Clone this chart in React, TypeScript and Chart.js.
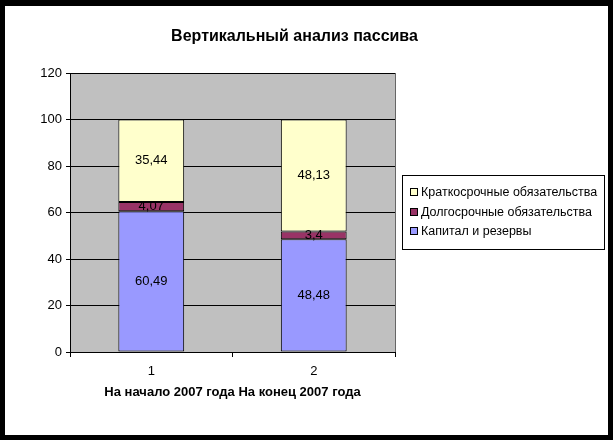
import React, { useEffect, useRef } from "react";
import { Chart, registerables } from "chart.js";

Chart.register(...registerables);

const categories = ["1", "2"];
const capital = [60.49, 48.48];
const longTerm = [4.07, 3.4];
const shortTerm = [35.44, 48.13];
const seriesNames = ["Капитал и резервы", "Долгосрочные обязательства", "Краткосрочные обязательства"];
const yTicks = { min: 0, max: 120, step: 20 };
const titleText = "Вертикальный анализ пассива";
const xTitleText = "На начало 2007 года На конец 2007 года";

const COLORS = ["#9999FF", "#993366", "#FFFFCC"];
const FONT = "'Liberation Sans', Arial, sans-serif";

const fmt = (v: number) => String(v).replace(".", ",");

export default function App() {
  const ref = useRef<HTMLCanvasElement | null>(null);
  useEffect(() => {
    const canvas = ref.current;
    if (!canvas) return;
    const decor = {
      id: "decor",
      beforeDraw(chart: any) {
        const { ctx, chartArea: a } = chart;
        ctx.save();
        ctx.fillStyle = "#fff";
        ctx.fillRect(0, 0, chart.width, chart.height);
        ctx.fillStyle = "#C0C0C0";
        ctx.fillRect(a.left, a.top, a.right - a.left, a.bottom - a.top);
        ctx.restore();
      },
      afterDatasetsDraw(chart: any) {
        const ctx = chart.ctx;
        ctx.save();
        ctx.font = `13px ${FONT}`;
        ctx.fillStyle = "#000";
        ctx.textAlign = "center";
        ctx.textBaseline = "middle";
        chart.data.datasets.forEach((ds: any, i: number) => {
          const meta = chart.getDatasetMeta(i);
          meta.data.forEach((el: any, j: number) => {
            const y = (el.y + el.base) / 2;
            ctx.fillText(fmt(ds.data[j]), el.x, y);
          });
        });
        ctx.restore();
      },
      afterDraw(chart: any) {
        const { ctx, chartArea: a } = chart;
        ctx.save();
        ctx.strokeStyle = "#666";
        ctx.lineWidth = 1;
        ctx.beginPath();
        ctx.moveTo(a.right + 0.5, a.top);
        ctx.lineTo(a.right + 0.5, a.bottom);
        ctx.stroke();
        ctx.fillStyle = "#000";
        ctx.textAlign = "center";
        ctx.textBaseline = "alphabetic";
        ctx.font = `bold 16px ${FONT}`;
        ctx.fillText(titleText, 289.5, 35);
        ctx.font = `bold 13px ${FONT}`;
        ctx.fillText(xTitleText, 227.5, 390);
        ctx.strokeStyle = "#000";
        ctx.strokeRect(397.5, 169.5, 202, 74);
        const rows = [
          { name: seriesNames[2], color: COLORS[2], y: 186 },
          { name: seriesNames[1], color: COLORS[1], y: 206 },
          { name: seriesNames[0], color: COLORS[0], y: 225 },
        ];
        ctx.font = `12.5px ${FONT}`;
        ctx.textAlign = "left";
        ctx.textBaseline = "middle";
        rows.forEach((r) => {
          ctx.fillStyle = r.color;
          ctx.fillRect(406, r.y - 3, 6, 6);
          ctx.strokeRect(405.5, r.y - 3.5, 7, 7);
          ctx.fillStyle = "#000";
          ctx.fillText(r.name, 416, r.y + 1);
        });
        ctx.restore();
      },
    };

    const chart = new Chart(canvas, {
      type: "bar",
      data: {
        labels: categories,
        datasets: [
          { label: seriesNames[0], data: capital, backgroundColor: COLORS[0] },
          { label: seriesNames[1], data: longTerm, backgroundColor: COLORS[1] },
          { label: seriesNames[2], data: shortTerm, backgroundColor: COLORS[2] },
        ].map((d) => ({
          ...d,
          borderColor: "#000",
          borderWidth: 1,
          borderSkipped: false,
          barPercentage: 0.405,
          categoryPercentage: 1,
        })),
      },
      options: {
        animation: false,
        responsive: false,
        devicePixelRatio: 1,
        layout: { padding: { left: 0, top: 67, right: 213, bottom: 0 } },
        plugins: {
          legend: { display: false },
          title: { display: false },
          tooltip: { enabled: false },
        },
        scales: {
          x: {
            stacked: true,
            afterFit: (s: any) => {
              s.height = 83;
            },
            grid: {
              display: true,
              drawOnChartArea: false,
              drawTicks: true,
              tickLength: 5,
              color: "#000",
              offset: true,
            },
            border: { color: "#000", width: 1 },
            ticks: { color: "#000", font: { family: FONT, size: 13 }, padding: 7, maxRotation: 0 },
          },
          y: {
            stacked: true,
            min: yTicks.min,
            max: yTicks.max,
            afterFit: (s: any) => {
              s.width = 65;
            },
            grid: { color: "#000", tickLength: 4, drawTicks: true },
            border: { color: "#000", width: 1 },
            ticks: {
              stepSize: yTicks.step,
              color: "#000",
              padding: 4,
              font: { family: FONT, size: 13 },
            },
          },
        },
      },
      plugins: [decor],
    });
    return () => chart.destroy();
  }, []);

  return (
    <div style={{ position: "fixed", left: 0, top: 0, width: 613, height: 440, background: "#000" }}>
      <canvas
        ref={ref}
        width={603}
        height={429}
        style={{ position: "absolute", left: 5, top: 6, width: 603, height: 429 }}
      />
    </div>
  );
}
